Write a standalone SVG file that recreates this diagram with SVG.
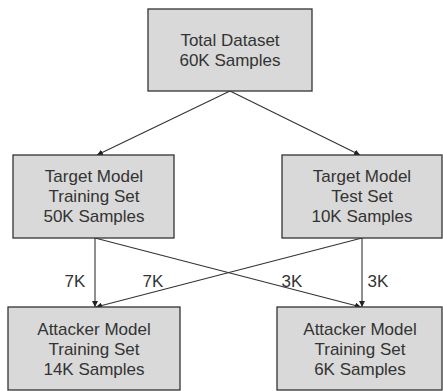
<svg xmlns="http://www.w3.org/2000/svg" width="443" height="391" viewBox="0 0 443 391">
<defs>
<marker id="ah" viewBox="0 0 10 10" refX="10" refY="5" markerWidth="6" markerHeight="6" markerUnits="userSpaceOnUse" orient="auto">
<path d="M0,0 L10,5 L0,10 z" fill="#222"/>
</marker>
<style>
.box{fill:#d9d9d9;stroke:#333;stroke-width:1.3}
.t{font-family:"Liberation Sans",Arial,sans-serif;font-size:17px;fill:#333;text-anchor:middle}
.c{stroke:#333;stroke-width:1.1;fill:none;marker-end:url(#ah)}
</style>
</defs>
<rect width="443" height="391" fill="#fff"/>
<g id="connectors">
<line class="c" x1="230" y1="91" x2="97" y2="155"/>
<line class="c" x1="230" y1="91" x2="360" y2="155"/>
<line class="c" x1="95" y1="238" x2="95" y2="307"/>
<line class="c" x1="362" y1="238" x2="362" y2="307"/>
<line class="c" x1="95" y1="238" x2="361" y2="307"/>
<line class="c" x1="362" y1="238" x2="96" y2="307"/>
<text class="t" x="75" y="287">7K</text>
<text class="t" x="153" y="287">7K</text>
<text class="t" x="292" y="287">3K</text>
<text class="t" x="378" y="287">3K</text>
</g>
<g id="total">
<rect class="box" x="148" y="9" width="164" height="82"/>
<text class="t" x="230" y="46">Total Dataset</text>
<text class="t" x="230" y="66">60K Samples</text>
</g>
<g id="target-train">
<rect class="box" x="13" y="155" width="161" height="83"/>
<text class="t" x="94" y="182">Target Model</text>
<text class="t" x="94" y="202">Training Set</text>
<text class="t" x="94" y="222">50K Samples</text>
</g>
<g id="target-test">
<rect class="box" x="282" y="155" width="160" height="83"/>
<text class="t" x="362" y="182">Target Model</text>
<text class="t" x="362" y="202">Test Set</text>
<text class="t" x="362" y="222">10K Samples</text>
</g>
<g id="attacker-train-14k">
<rect class="box" x="8" y="307" width="172" height="83"/>
<text class="t" x="94" y="335">Attacker Model</text>
<text class="t" x="94" y="355">Training Set</text>
<text class="t" x="94" y="375">14K Samples</text>
</g>
<g id="attacker-train-6k">
<rect class="box" x="277" y="307" width="165" height="83"/>
<text class="t" x="360" y="335">Attacker Model</text>
<text class="t" x="360" y="355">Training Set</text>
<text class="t" x="360" y="375">6K Samples</text>
</g>
</svg>
